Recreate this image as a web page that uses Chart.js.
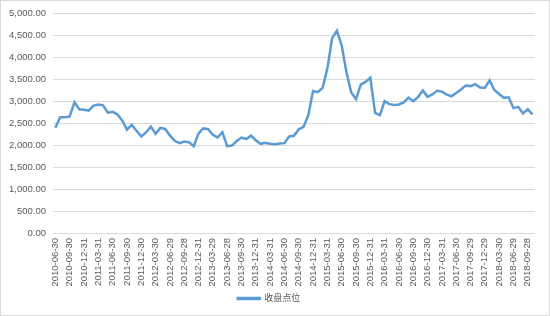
<!DOCTYPE html>
<html>
<head>
<meta charset="utf-8">
<script src="https://cdn.jsdelivr.net/npm/chart.js@4"></script>
<style>
	html, body { margin: 0; padding: 0; background: #fff; }
	#box { width: 548px; height: 314px; border: 1px solid #d9d9d9; }
</style>
</head>
<body>
<div id="box"><canvas id="grafico" width="548" height="314"></canvas></div>
<script>
const datas = [
	'2010-06-30', '2010-07-30', '2010-08-31', '2010-09-30', '2010-10-29', '2010-11-30', '2010-12-31',
	'2011-01-31', '2011-02-28', '2011-03-31', '2011-04-29', '2011-05-31', '2011-06-30',
	'2011-07-29', '2011-08-31', '2011-09-30', '2011-10-31', '2011-11-30', '2011-12-30',
	'2012-01-31', '2012-02-29', '2012-03-30', '2012-04-27', '2012-05-31', '2012-06-29',
	'2012-07-31', '2012-08-31', '2012-09-28', '2012-10-31', '2012-11-30', '2012-12-31',
	'2013-01-31', '2013-02-28', '2013-03-29', '2013-04-26', '2013-05-31', '2013-06-28',
	'2013-07-31', '2013-08-30', '2013-09-30', '2013-10-31', '2013-11-29', '2013-12-31',
	'2014-01-30', '2014-02-28', '2014-03-31', '2014-04-30', '2014-05-30', '2014-06-30',
	'2014-07-31', '2014-08-29', '2014-09-30', '2014-10-31', '2014-11-28', '2014-12-31',
	'2015-01-30', '2015-02-27', '2015-03-31', '2015-04-30', '2015-05-29', '2015-06-30',
	'2015-07-31', '2015-08-31', '2015-09-30', '2015-10-30', '2015-11-30', '2015-12-31',
	'2016-01-29', '2016-02-29', '2016-03-31', '2016-04-29', '2016-05-31', '2016-06-30',
	'2016-07-29', '2016-08-31', '2016-09-30', '2016-10-31', '2016-11-30', '2016-12-30',
	'2017-01-26', '2017-02-28', '2017-03-31', '2017-04-28', '2017-05-31', '2017-06-30',
	'2017-07-31', '2017-08-31', '2017-09-29', '2017-10-31', '2017-11-30', '2017-12-29',
	'2018-01-31', '2018-02-28', '2018-03-30', '2018-04-27', '2018-05-31', '2018-06-29',
	'2018-07-31', '2018-08-31', '2018-09-28', '2018-10-31',
];

const fechamento = [
	2398, 2637, 2638, 2656, 2979, 2820, 2808,
	2791, 2905, 2928, 2911, 2743, 2762,
	2701, 2568, 2359, 2468, 2333, 2199,
	2292, 2428, 2262, 2397, 2373, 2225,
	2103, 2047, 2086, 2069, 1980, 2269,
	2385, 2366, 2237, 2178, 2301, 1979,
	1994, 2098, 2175, 2142, 2220, 2116,
	2033, 2056, 2033, 2026, 2039, 2048,
	2202, 2217, 2364, 2420, 2683, 3235,
	3210, 3310, 3748, 4442, 4612, 4277,
	3664, 3206, 3053, 3383, 3445, 3539,
	2738, 2688, 3004, 2938, 2917, 2930,
	2979, 3085, 3005, 3100, 3250, 3104,
	3159, 3242, 3223, 3155, 3117, 3192,
	3273, 3361, 3349, 3393, 3317, 3307,
	3481, 3259, 3169, 3082, 3095, 2847,
	2876, 2725, 2821, 2705,
];

const nomeSerie = '收盘点位';
const corLinha = '#5B9BD5';
const corTexto = '#595959';
const corGrade = '#D9D9D9';
const fonte = '"Liberation Sans", "Noto Sans CJK SC", sans-serif';

new Chart(document.getElementById('grafico'), {
	type: 'line',
	data: {
		labels: datas,
		datasets: [
			{
				label: nomeSerie,
				data: fechamento,
				borderColor: corLinha,
				backgroundColor: corLinha,
				borderWidth: 2.5,
				pointRadius: 0,
				tension: 0,
			},
		],
	},
	options: {
		responsive: false,
		animation: false,
		layout: {
			padding: { left: 0, right: 12, top: 11, bottom: 2 },
		},
		plugins: {
			legend: {
				position: 'bottom',
				labels: {
					boxWidth: 22,
					boxHeight: 1,
					padding: 6,
					color: corTexto,
					font: { family: fonte, size: 9 },
				},
			},
			tooltip: { enabled: false },
		},
		scales: {
			x: {
				offset: true,
				grid: { display: false, drawTicks: false },
				border: { color: corGrade },
				afterFit: (s) => { s.height = 55; },
				ticks: {
					autoSkip: false,
					minRotation: 90,
					maxRotation: 90,
					padding: 5,
					color: corTexto,
					font: { family: fonte, size: 9.5 },
					callback: (v, i) => (i % 3 === 0 ? datas[i] : ''),
				},
			},
			y: {
				min: 0,
				max: 5000,
				grid: { color: corGrade, drawTicks: false },
				border: { display: false },
				afterFit: (s) => { s.width = 52; },
				ticks: {
					stepSize: 500,
					padding: 7,
					color: corTexto,
					font: { family: fonte, size: 9.5 },
					callback: (v) => v.toLocaleString('en-US', { minimumFractionDigits: 2, maximumFractionDigits: 2 }),
				},
			},
		},
	},
});
</script>
</body>
</html>
